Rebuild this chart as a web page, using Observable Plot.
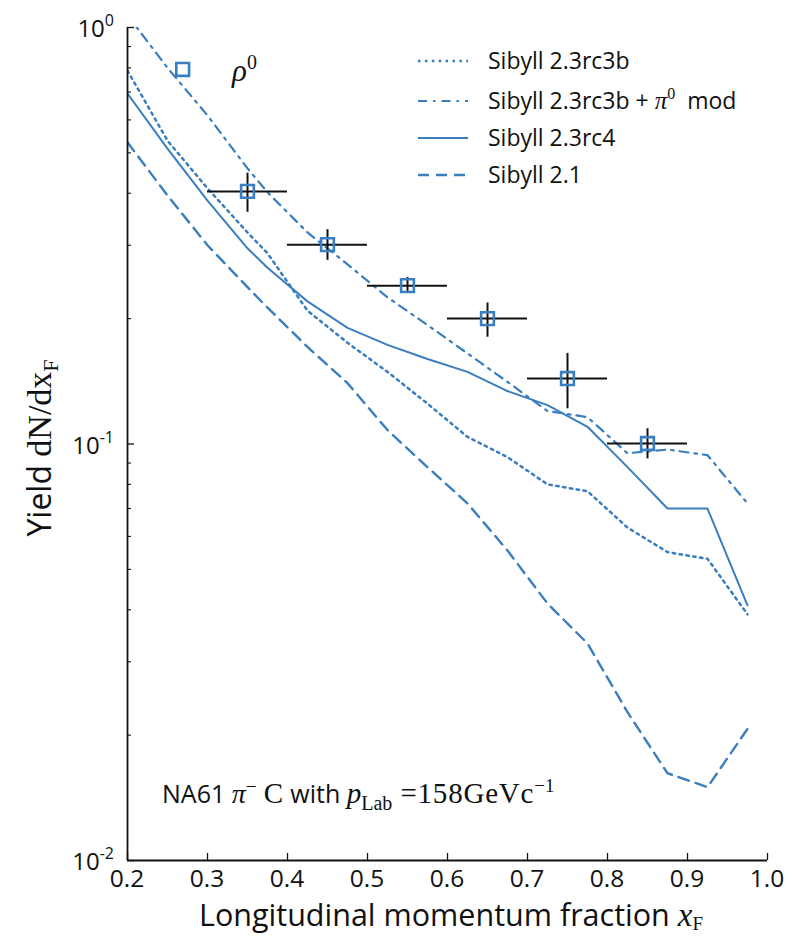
<!DOCTYPE html>
<html><head><meta charset="utf-8">
<script src="https://cdn.jsdelivr.net/npm/d3@7"></script>
<script src="https://cdn.jsdelivr.net/npm/@observablehq/plot@0.6"></script>
<style>body{margin:0;background:#fff} svg{display:block} text{white-space:pre}</style>
</head><body>
<script>
// ---- data ----
const xF = [0.2,0.25,0.3,0.35,0.375,0.425,0.475,0.525,0.575,0.625,0.675,0.725,0.775,0.825,0.875,0.925,0.975];
const sib23rc3b    = [0.788,0.535,0.411,0.322,0.287,0.209,0.175,0.149,0.125,0.104,0.093,0.080,0.077,0.063,0.055,0.053,0.039];
const sib23rc3bPi0 = [1.07,0.80,0.615,0.459,0.402,0.322,0.270,0.225,0.193,0.165,0.141,0.120,0.116,0.095,0.097,0.094,0.072];
const sib23rc4     = [0.694,0.512,0.384,0.295,0.265,0.220,0.190,0.173,0.160,0.149,0.134,0.124,0.110,0.088,0.070,0.070,0.041];
const sib21        = [0.530,0.395,0.300,0.238,0.2125,0.171,0.140,0.108,0.088,0.072,0.0555,0.0414,0.0332,0.0227,0.0162,0.0150,0.0207];

const dataX     = [0.35,0.45,0.55,0.65,0.75,0.85];
const dataXLow  = [0.30,0.40,0.50,0.60,0.70,0.80];
const dataXHigh = [0.40,0.50,0.60,0.70,0.80,0.90];
const dataY     = [0.404,0.301,0.240,0.200,0.1436,0.1003];
const dataYLow  = [0.360,0.276,0.231,0.1805,0.1215,0.0921];
const dataYHigh = [0.447,0.327,0.251,0.218,0.165,0.1088];

const rhoX = [0.269];
const rhoY = [0.793];

const xTicks = [0.2,0.3,0.4,0.5,0.6,0.7,0.8,0.9,1.0];
const xTickLabels = ["0.2","0.3","0.4","0.5","0.6","0.7","0.8","0.9","1.0"];
const yMajor = [0.01,0.1,1];
const yMajorExp = ["-2","-1","0"];
const yMinor = [0.02,0.03,0.04,0.05,0.06,0.07,0.08,0.09,0.2,0.3,0.4,0.5,0.6,0.7,0.8,0.9];

const seriesNames = ["Sibyll 2.3rc3b","Sibyll 2.3rc3b + π0 mod","Sibyll 2.3rc4","Sibyll 2.1"];
const seriesValues = [sib23rc3b, sib23rc3bPi0, sib23rc4, sib21];

// ---- styles ----
const BLUE = "#3a7ebf";
const dashes = ["2.5,4.4", "9,6,2.5,6", null, "11,7"];
const widths = [2.5, 2.2, 2, 2.4];
const sans = "'Open Sans', 'Noto Sans', sans-serif";
const serif = "'Liberation Serif', 'DejaVu Serif', serif";

const lineRows = seriesNames.map((name, k) => xF.map((x, i) => ({x, y: seriesValues[k][i], name})));
const points = dataX.map((x, i) => ({x, y: dataY[i], x1: dataXLow[i], x2: dataXHigh[i], y1: dataYLow[i], y2: dataYHigh[i]}));
const rho = rhoX.map((x, i) => ({x, y: rhoY[i]}));

const W = 794, H = 938, mL = 127, mR = 27, mT = 27, mB = 78;
const fw = W - mL - mR, fh = H - mT - mB;

const chart = Plot.plot({
  width: W, height: H,
  marginLeft: mL, marginRight: mR, marginTop: mT, marginBottom: mB,
  x: {domain: [0.2, 1.0], axis: null},
  y: {type: "log", domain: [0.01, 1], axis: null},
  style: {background: "white", overflow: "visible"},
  marks: [
    ...lineRows.map((rows, k) => Plot.line(rows, {x: "x", y: "y", stroke: BLUE, strokeWidth: widths[k], strokeDasharray: dashes[k] ?? undefined, clip: true})),
    Plot.ruleY(points, {y: "y", x1: "x1", x2: "x2", stroke: "#111", strokeWidth: 2}),
    Plot.ruleX(points, {x: "x", y1: "y1", y2: "y2", stroke: "#111", strokeWidth: 2}),
    Plot.dot(points, {x: "x", y: "y", symbol: "square", r: 7.2, stroke: BLUE, strokeWidth: 2.6, fill: "none"}),
    Plot.dot(rho, {x: "x", y: "y", symbol: "square", r: 7.2, stroke: BLUE, strokeWidth: 2.6, fill: "none"}),
    Plot.tickY(yMajor, {y: d => d, insetRight: fw - 7, stroke: "#111", strokeWidth: 1.3}),
    Plot.tickY(yMinor, {y: d => d, insetRight: fw - 4, stroke: "#111", strokeWidth: 1.1}),
    Plot.tickX(xTicks, {x: d => d, insetTop: fh - 7, stroke: "#111", strokeWidth: 1.3}),
    Plot.ruleX([0.2], {stroke: "#111", strokeWidth: 1.8}),
    Plot.ruleY([0.01], {stroke: "#111", strokeWidth: 1.8})
  ]
});
document.body.appendChild(chart);

const svg = d3.select(chart);
const xs = chart.scale("x"), ys = chart.scale("y");

function addText(x, y, parts, opts = {}) {
  const t = svg.append("text").attr("x", x).attr("y", y).attr("fill", "#111")
    .attr("text-anchor", opts.anchor || "start");
  if (opts.transform) t.attr("transform", opts.transform).attr("x", 0).attr("y", 0);
  let cur = 0;
  for (const p of parts) {
    const sh = p.sh || 0;
    const ts = t.append("tspan").text(p.t)
      .attr("font-family", p.f === "serif" ? serif : sans)
      .attr("font-size", p.s)
      .attr("font-style", p.i ? "italic" : "normal");
    if (p.ls) ts.attr("letter-spacing", p.ls);
    if (sh !== cur) { ts.attr("dy", sh - cur); cur = sh; }
  }
  return t;
}

// x tick labels
xTicks.forEach((v, i) => addText(xs.apply(v), 887, [{t: xTickLabels[i], s: 24.5}], {anchor: "middle"}));
// y tick labels
yMajor.forEach((v, i) => addText(114, ys.apply(v) + 10, [{t: "10", s: 24}, {t: yMajorExp[i], s: 16, sh: -11}], {anchor: "end"}));

// axis titles
addText(0, 0, [{t: "Yield ", s: 32}, {t: "dN/dx", f: "serif", s: 34}, {t: "F", f: "serif", s: 22, sh: 7}],
  {anchor: "middle", transform: "translate(51,448) rotate(-90)"});
addText(451, 926, [{t: "Longitudinal momentum fraction ", s: 30.5}, {t: "x", f: "serif", i: true, s: 33}, {t: "F", f: "serif", s: 19, sh: 4}],
  {anchor: "middle"});

// annotations
addText(162, 803, [
  {t: "NA61 ", s: 25}, {t: "π", f: "serif", i: true, s: 28}, {t: "−", f: "serif", s: 19, sh: -10},
  {t: " C ", f: "serif", s: 29}, {t: "with ", s: 25}, {t: "p", f: "serif", i: true, s: 29},
  {t: "Lab", f: "serif", s: 20, sh: 7}, {t: " =158GeVc", f: "serif", s: 29, ls: 0.8}, {t: "−1", f: "serif", s: 19, sh: -11}
]);
addText(232, 81, [{t: "ρ", f: "serif", i: true, s: 31}, {t: "0", f: "serif", s: 20, sh: -12}]);

// legend
const legY = [61, 101, 138, 175];
seriesNames.forEach((name, k) => {
  const l = svg.append("line").attr("x1", 418).attr("x2", 468).attr("y1", legY[k]).attr("y2", legY[k])
    .attr("stroke", BLUE).attr("stroke-width", widths[k]);
  if (dashes[k]) l.attr("stroke-dasharray", dashes[k]);
  const parts = k === 1
    ? [{t: "Sibyll 2.3rc3b + ", s: 23}, {t: "π", f: "serif", i: true, s: 25}, {t: "0", f: "serif", s: 16, sh: -10}, {t: "  mod", s: 23, sh: 0}]
    : [{t: name, s: 23}];
  addText(488, legY[k] + 8, parts);
});
</script>
</body></html>
